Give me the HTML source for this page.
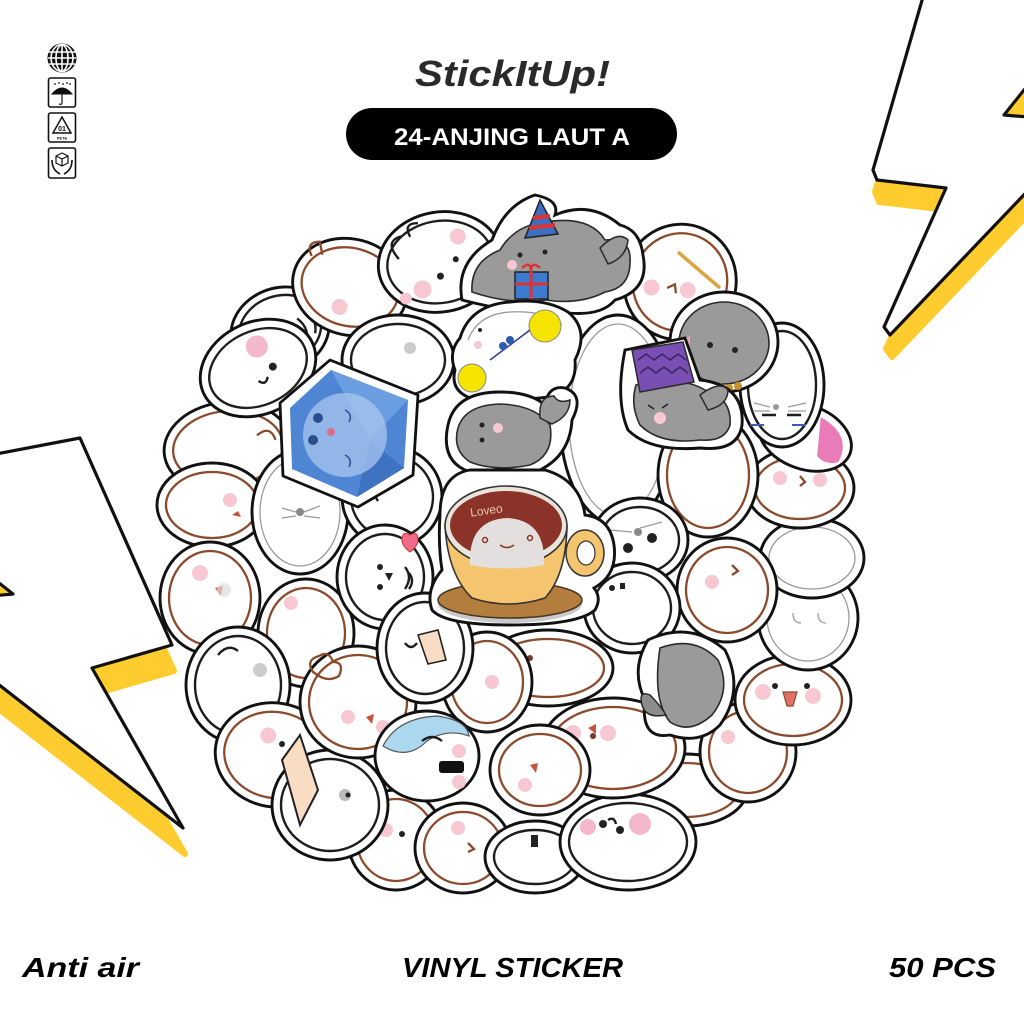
<!DOCTYPE html>
<html><head><meta charset="utf-8"><title>StickItUp</title>
<style>
html,body{margin:0;padding:0;background:#fff;}
svg{display:block;}
.o{fill:#fff;stroke:#111;stroke-width:2.9;}
.b{fill:none;stroke:#8a4a2b;stroke-width:2.3;}
.k{fill:none;stroke:#1d1d1d;stroke-width:2.4;}
.g{fill:none;stroke:#9a9a9a;stroke-width:1.3;}
.ck{fill:#f7c8d2;}
.e{fill:#222;}
.gr{fill:#9a9a9a;stroke:#2a2a2a;stroke-width:1.6;}
.t{font-family:"Liberation Sans",sans-serif;font-weight:bold;}
</style></head>
<body>
<svg width="1024" height="1024" viewBox="0 0 1024 1024" xmlns="http://www.w3.org/2000/svg">
<rect width="1024" height="1024" fill="#fff"/>

<!-- Right lightning -->
<polygon points="925,-10 873,170 877,180 946,188 884,327 890,335 1040,178 1040,-10" transform="translate(2,22)" fill="#FFCC2F" stroke="#FFCC2F" stroke-width="6" stroke-linejoin="round"/>
<polygon points="1004,115 1040,70 1040,118" fill="#FFCC2F"/>
<polygon points="925,-10 873,170 877,180 946,188 884,327 890,335 1040,178 1040,118 1004,115 1040,70 1040,-10" fill="#fff" stroke="#111" stroke-width="3.2" stroke-linejoin="round"/>

<!-- Left lightning -->
<polygon points="-20,457 80,438 172,645 92,668 183,828 -20,670" transform="translate(2,26)" fill="#FFCC2F" stroke="#FFCC2F" stroke-width="6" stroke-linejoin="round"/>
<polygon points="-20,568 13,594 -20,597" fill="#FFCC2F"/>
<polygon points="-20,457 80,438 172,645 92,668 183,828 -20,670 -20,597 13,594 -20,568" fill="#fff" stroke="#111" stroke-width="3.2" stroke-linejoin="round"/>

<!-- Icons -->
<g stroke="#111" fill="none">
  <circle cx="62" cy="58" r="14" fill="#111"/>
  <g stroke="#fff" stroke-width="1.6">
    <line x1="48" y1="52" x2="76" y2="52"/><line x1="48" y1="58" x2="76" y2="58"/><line x1="49" y1="64" x2="75" y2="64"/>
    <line x1="62" y1="44" x2="62" y2="72"/><ellipse cx="62" cy="58" rx="6" ry="13"/><ellipse cx="62" cy="58" rx="11" ry="13.5"/>
  </g>
  <rect x="48.5" y="78" width="27" height="29" rx="2" stroke-width="1.6"/>
  <path d="M52 94 Q62 82 72 94 Z" fill="#111" stroke-width="1"/>
  <path d="M62 94 L62 103 Q62 105 59 104" stroke-width="1.2"/>
  <g fill="#111" stroke="none"><circle cx="55" cy="84" r="0.9"/><circle cx="59" cy="83" r="0.9"/><circle cx="63" cy="84" r="0.9"/><circle cx="67" cy="83" r="0.9"/><circle cx="70" cy="84" r="0.9"/></g>
  <rect x="48.5" y="113" width="27" height="29" rx="2" stroke-width="1.6"/>
  <path d="M62 117 L71 133 L53 133 Z" stroke-width="1.5"/>
  <rect x="48.5" y="148" width="27" height="30" rx="2" stroke-width="1.6"/>
  <path d="M56 156 L62 153 L68 156 L68 163 L62 166 L56 163 Z M56 156 L62 159 L68 156 M62 159 L62 166" stroke-width="1.2"/>
  <path d="M52 160 Q52 170 60 174 M72 160 Q72 170 64 174" stroke-width="1.6"/>
</g>
<text x="62" y="131" class="t" font-size="7" text-anchor="middle" fill="#111">01</text>
<text x="62" y="139.5" class="t" font-size="4" text-anchor="middle" fill="#111">PETE</text>

<!-- Title -->
<text x="415" y="86" class="t" font-style="italic" font-size="36" fill="#2a2a2a" textLength="195" lengthAdjust="spacingAndGlyphs">StickItUp!</text>
<rect x="346" y="108" width="331" height="52" rx="26" fill="#000"/>
<text x="394" y="145" class="t" font-size="24" fill="#fff" textLength="236" lengthAdjust="spacingAndGlyphs">24-ANJING LAUT A</text>

<!-- ===== Collage ===== -->
<g transform="translate(280,330) rotate(-20)"><ellipse class="o" rx="50" ry="42"/><ellipse class="k" rx="42" ry="34"/><path class="k" d="M20 -5 q10 15 -2 30 M28 -10 q12 10 4 25"/></g>
<g transform="translate(350,287) rotate(15)"><ellipse class="o" rx="58" ry="48"/><ellipse class="b" rx="49" ry="39"/><circle class="ck" cx="-5" cy="22" r="8"/><path class="b" d="M-45 -20 q-10 -12 4 -16 q4 8 6 12"/></g>
<g transform="translate(440,262) rotate(-10)"><ellipse class="o" rx="62" ry="50"/><ellipse class="k" rx="53" ry="41"/><circle class="ck" cx="22" cy="-22" r="8"/><circle class="ck" cx="-22" cy="24" r="9"/><circle class="ck" cx="-40" cy="30" r="6"/><circle class="e" cx="-2" cy="14" r="3.5"/><circle class="e" cx="16" cy="0" r="3"/><path class="k" d="M-40 -10 q-12 -20 6 -22 M-25 -30 q-5 -15 10 -12"/></g>
<g transform="translate(228,448) rotate(-5)"><ellipse class="o" rx="64" ry="46"/><ellipse class="b" rx="55" ry="37"/><path class="b" d="M30 -10 q14 -10 18 6"/></g>
<g transform="translate(258,368) rotate(-25)"><ellipse class="o" rx="60" ry="46"/><ellipse class="k" rx="51" ry="37"/><circle cx="8" cy="-20" r="11" fill="#f4b8cc"/><circle class="e" cx="14" cy="5" r="4"/><path class="k" d="M-5 12 q5 8 10 0"/></g>
<g transform="translate(212,505)"><ellipse class="o" rx="55" ry="42"/><ellipse class="b" rx="46" ry="33"/><circle class="ck" cx="18" cy="-5" r="7"/><path d="M20 10 l6 -4 l3 6 z" fill="#c7523e"/></g>
<g transform="translate(210,598)"><ellipse class="o" rx="50" ry="56"/><ellipse class="b" rx="41" ry="47"/><circle class="ck" cx="-10" cy="-25" r="8"/><path d="M5 -10 l8 -2 l-2 10 z" fill="#c7523e"/><circle cx="14" cy="-8" r="7" fill="#ddd" opacity=".7"/></g>
<g transform="translate(306,633)"><ellipse class="o" rx="48" ry="54"/><ellipse class="b" rx="39" ry="45"/><circle class="ck" cx="-15" cy="-30" r="7"/></g>
<g transform="translate(238,685)"><ellipse class="o" rx="52" ry="58"/><ellipse class="k" rx="43" ry="49"/><path class="k" d="M-20 -30 q10 -12 20 -4"/><circle cx="22" cy="-15" r="7" fill="#ccc"/></g>
<g transform="translate(275,755) rotate(10)"><ellipse class="o" rx="60" ry="52"/><ellipse class="b" rx="51" ry="43"/><circle class="ck" cx="-10" cy="-18" r="8"/><circle class="e" cx="5" cy="-12" r="3"/></g>
<g transform="translate(396,840)"><ellipse class="o" rx="48" ry="50"/><ellipse class="b" rx="39" ry="41"/><circle class="ck" cx="-10" cy="-10" r="7"/><circle class="e" cx="6" cy="-6" r="3"/></g>
<g transform="translate(330,805)"><ellipse class="o" rx="58" ry="55"/><ellipse class="k" rx="49" ry="46"/><circle cx="15" cy="-10" r="6" fill="#bbb"/><circle class="e" cx="18" cy="-10" r="2.5"/></g>
<path d="M282 760 L300 735 L318 790 L300 825 Z" fill="#f9dcc4" stroke="#222" stroke-width="2"/>
<g transform="translate(463,848)"><ellipse class="o" rx="48" ry="45"/><ellipse class="b" rx="39" ry="36"/><circle class="ck" cx="-5" cy="-20" r="7"/><path d="M5 -5 l6 6 l-6 3" class="b"/></g>
<g transform="translate(535,857)"><ellipse class="o" rx="50" ry="36"/><ellipse class="k" rx="41" ry="27"/><rect x="-4" y="-22" width="7" height="12" fill="#222"/></g>
<g transform="translate(685,790)"><ellipse class="o" rx="62" ry="36"/><ellipse class="b" rx="53" ry="27"/></g>
<g transform="translate(628,842)"><ellipse class="o" rx="68" ry="48"/><ellipse class="k" rx="59" ry="39"/><circle cx="-40" cy="-15" r="8" fill="#f4b8cc"/><circle cx="12" cy="-18" r="11" fill="#f4b8cc"/><circle class="e" cx="-25" cy="-18" r="4"/><circle class="e" cx="-8" cy="-12" r="4"/><path class="k" d="M-20 -22 q6 -4 8 4"/></g>
<g transform="translate(748,752)"><ellipse class="o" rx="48" ry="50"/><ellipse class="b" rx="39" ry="41"/><circle class="ck" cx="-20" cy="-15" r="7"/></g>
<g transform="translate(793,700)"><ellipse class="o" rx="58" ry="45"/><ellipse class="b" rx="49" ry="36"/><circle class="ck" cx="-30" cy="-8" r="8"/><circle class="ck" cx="20" cy="-4" r="8"/><path d="M-10 -8 l14 0 l-4 14 l-6 0 z" fill="#e0706a" stroke="#8a4a2b" stroke-width="1.2"/><circle class="e" cx="-18" cy="-14" r="3"/><circle class="e" cx="14" cy="-14" r="3"/></g>
<g transform="translate(808,618)"><ellipse class="o" rx="50" ry="52"/><ellipse class="g" rx="41" ry="43"/><path class="g" d="M-15 -5 q0 10 8 10 M10 -5 q0 10 8 10"/></g>
<g transform="translate(812,558)"><ellipse class="o" rx="52" ry="40"/><ellipse class="g" rx="43" ry="31"/></g>
<g transform="translate(800,488)"><ellipse class="o" rx="54" ry="40"/><ellipse class="b" rx="45" ry="31"/><circle class="ck" cx="-20" cy="-10" r="7"/><circle class="ck" cx="20" cy="-8" r="7"/><path d="M0 -12 l5 6 l-5 4" class="b"/></g>
<g transform="translate(805,437) rotate(20)"><ellipse class="o" rx="48" ry="32"/><path d="M8 -24 Q44 -18 40 12 Q30 20 18 14 Z" fill="#e97cb6"/></g>
<g transform="translate(782,385)"><ellipse class="o" rx="42" ry="62"/><ellipse class="k" rx="34" ry="54"/><path class="k" d="M-20 30 l14 0 M5 30 l14 0"/><circle cx="-6" cy="22" r="3" fill="#999"/><path class="g" d="M-28 18 l16 4 M-28 26 l16 0 M6 22 l18 -4 M6 26 l18 0"/><path d="M-32 40 l14 0 M10 40 l14 0" stroke="#3a5fb0" stroke-width="2"/></g>
<g transform="translate(680,282) rotate(20)"><ellipse class="o" rx="56" ry="58"/><ellipse class="b" rx="47" ry="49"/><circle class="ck" cx="-25" cy="15" r="8"/><circle class="ck" cx="10" cy="5" r="8"/><path class="b" d="M-10 10 l6 -6 l4 8"/></g>
<line x1="678" y1="252" x2="720" y2="288" stroke="#d9a441" stroke-width="3.5"/>

<!-- party gray seal -->
<path class="o" d="M462 300 Q455 262 492 240 Q505 205 535 195 Q560 200 555 215 Q590 200 620 225 Q640 230 643 255 Q650 290 615 300 Q600 318 560 312 Q520 315 462 300 Z"/>
<path class="gr" d="M472 292 Q470 262 500 250 Q515 225 545 222 Q590 215 605 240 Q632 238 630 262 Q630 288 605 292 Q580 305 545 300 Q510 305 472 292 Z"/>
<path d="M600 248 q18 -18 28 -8 q-2 18 -20 24 z" fill="#9a9a9a" stroke="#2a2a2a" stroke-width="1.5"/>
<path d="M540 200 L525 238 L558 234 Z" fill="#3d6ec0" stroke="#222" stroke-width="1.5"/>
<path d="M533 218 L550 216 M529 228 L555 225" stroke="#d33" stroke-width="4"/>
<circle class="e" cx="520" cy="255" r="2.5"/><circle class="e" cx="545" cy="252" r="2.5"/>
<circle class="ck" cx="512" cy="265" r="5"/>
<rect x="515" y="272" width="33" height="27" fill="#3d7bd0" stroke="#222" stroke-width="1.5"/>
<path d="M531 272 L531 299 M515 284 L548 284" stroke="#d33" stroke-width="3"/>
<path d="M522 268 q9 -8 9 4 q0 -12 9 -4" fill="none" stroke="#d33" stroke-width="2.5"/>

<!-- angry gray seal -->
<ellipse class="o" cx="724" cy="342" rx="54" ry="50"/>
<ellipse class="gr" cx="724" cy="343" rx="45" ry="41"/>
<circle class="e" cx="710" cy="345" r="3"/><circle class="e" cx="735" cy="350" r="3"/>
<path d="M680 340 l10 -4 l0 18 z" fill="#f3a0c0"/>
<g fill="#c8902a"><circle cx="720" cy="387" r="4"/><circle cx="729" cy="388" r="4"/><circle cx="738" cy="386" r="4"/></g>

<!-- middle layer -->
<g transform="translate(618,420)"><ellipse class="o" rx="58" ry="105"/><ellipse class="g" rx="49" ry="96"/></g>
<g transform="translate(708,475)"><ellipse class="o" rx="50" ry="62"/><ellipse class="b" rx="41" ry="53"/></g>
<g transform="translate(727,590)"><ellipse class="o" rx="50" ry="52"/><ellipse class="b" rx="41" ry="43"/><circle class="ck" cx="-15" cy="-8" r="7"/><path d="M5 -25 l6 6 l-6 4" class="b"/></g>
<g transform="translate(398,360)"><ellipse class="o" rx="56" ry="45"/><ellipse class="k" rx="47" ry="36"/><circle cx="12" cy="-12" r="6" fill="#ccc"/><path class="k" d="M-40 10 q-8 10 2 18"/></g>
<g transform="translate(300,512)"><ellipse class="o" rx="48" ry="62"/><ellipse class="g" rx="40" ry="54"/><circle cx="0" cy="0" r="4" fill="#888"/><path class="g" d="M-18 -4 l14 4 M-18 6 l14 -2 M4 0 l16 -6 M4 4 l16 2"/></g>
<g transform="translate(392,497)"><ellipse class="o" rx="50" ry="50"/><ellipse class="k" rx="41" ry="41"/><path class="k" d="M-10 -20 q-14 10 -4 24"/></g>
<g transform="translate(613,748)"><ellipse class="o" rx="72" ry="50"/><ellipse class="b" rx="63" ry="41"/><circle class="ck" cx="-40" cy="-15" r="8"/><circle class="ck" cx="-5" cy="-15" r="8"/><path d="M-25 -20 l8 -4 l0 10 z" fill="#c7523e"/><circle cx="-20" cy="-12" r="3" fill="#7a3a22"/></g>
<g transform="translate(540,770)"><ellipse class="o" rx="50" ry="45"/><ellipse class="b" rx="41" ry="36"/><circle class="ck" cx="-15" cy="15" r="7"/><path d="M-10 -5 l8 -2 l-2 10 z" fill="#c7523e"/></g>
<g transform="translate(548,668)"><ellipse class="o" rx="65" ry="38"/><ellipse class="b" rx="56" ry="29"/><circle class="ck" cx="-35" cy="-8" r="7"/><circle cx="-18" cy="-10" r="3" fill="#7a3a22"/></g>
<g transform="translate(487,682)"><ellipse class="o" rx="45" ry="50"/><ellipse class="b" rx="36" ry="41"/><circle class="ck" cx="5" cy="0" r="7"/></g>
<g transform="translate(358,702)"><ellipse class="o" rx="58" ry="56"/><ellipse class="b" rx="49" ry="47"/><circle class="ck" cx="-10" cy="15" r="7"/><circle class="ck" cx="25" cy="25" r="7"/><path d="M8 15 l8 -3 l-2 10 z" fill="#c7523e"/><path class="b" d="M-45 -30 q-8 -12 6 -16 q10 -6 14 6 q12 0 6 14 q-10 6 -20 0 z"/></g>
<g transform="translate(385,577)"><ellipse class="o" rx="48" ry="52"/><ellipse class="k" rx="39" ry="43"/><circle class="e" cx="-5" cy="-10" r="3"/><circle class="e" cx="-5" cy="10" r="3"/><path d="M0 -4 l8 0 l-4 8 z" fill="#222"/><path class="k" d="M20 -10 q8 10 0 22 M24 -4 q6 8 0 16"/></g>
<path d="M402 540 q0 -10 8 -5 q8 -5 8 5 q0 6 -8 12 q-8 -6 -8 -12 z" fill="#f06a8a" stroke="#c33" stroke-width="1"/>
<g transform="translate(425,648)"><ellipse class="o" rx="48" ry="55"/><ellipse class="k" rx="39" ry="46"/><path class="k" d="M-20 -5 q6 8 12 0"/></g>
<path d="M418 635 l20 -5 l8 30 l-18 4 z" fill="#f9dcc4" stroke="#222" stroke-width="1.6"/>
<g transform="translate(640,540)"><ellipse class="o" rx="48" ry="42"/><ellipse class="k" rx="39" ry="33"/><circle class="e" cx="-12" cy="8" r="5"/><circle class="e" cx="12" cy="-2" r="5"/><circle cx="-2" cy="-8" r="4" fill="#888"/><path class="g" d="M-30 -10 l22 2 M0 -12 l22 -6"/></g>
<g transform="translate(632,608)"><ellipse class="o" rx="48" ry="45"/><ellipse class="k" rx="39" ry="36"/><circle class="e" cx="-20" cy="-20" r="3"/><rect x="-12" y="-25" width="5" height="6" fill="#222"/></g>

<!-- gray seal lower right -->
<path class="o" d="M648 640 Q690 620 725 650 Q745 690 720 725 Q700 745 670 735 Q640 740 645 700 Q630 670 648 640 Z"/>
<path class="gr" d="M660 648 Q695 635 718 660 Q732 690 712 715 Q690 735 670 722 Q652 700 660 648 Z"/>
<path d="M650 695 q-12 -5 -8 10 q4 14 24 10 q-6 -10 -16 -20 z" fill="#8c8c8c" stroke="#2a2a2a" stroke-width="1.5"/>

<!-- purple hat gray seal -->
<path class="o" d="M625 350 L685 338 L700 380 Q745 385 742 425 Q738 452 700 448 Q650 452 628 430 Q615 400 625 350 Z"/>
<path class="gr" d="M636 385 Q680 375 705 390 Q732 398 730 425 Q725 442 700 440 Q660 445 640 425 Q630 405 636 385 Z"/>
<path d="M632 350 L683 342 L694 382 L640 392 Z" fill="#7a4fb3" stroke="#2a2a2a" stroke-width="1.5"/>
<path d="M638 360 l8 -6 l8 6 l8 -6 l8 6 l8 -6 l8 6 M640 373 l8 -6 l8 6 l8 -6 l8 6 l8 -6 l8 6" fill="none" stroke="#3a2460" stroke-width="1.5"/>
<circle class="ck" cx="660" cy="418" r="6"/><path d="M648 405 l6 4 M662 408 l6 -4" stroke="#222" stroke-width="1.6"/>
<path d="M700 395 q20 -15 28 -5 q0 15 -20 20 z" fill="#9a9a9a" stroke="#2a2a2a" stroke-width="1.5"/>

<!-- white seal with yellow pompoms -->
<path class="o" d="M460 338 Q470 305 510 302 Q545 298 568 312 Q590 330 575 360 Q578 395 540 398 Q500 402 470 398 Q450 390 455 370 Q448 352 460 338 Z"/>
<path class="g" d="M468 340 Q478 314 510 312 Q545 310 562 325"/>
<circle cx="545" cy="326" r="16" fill="#f4e400" stroke="#888" stroke-width="1"/>
<circle cx="472" cy="378" r="14" fill="#f4e400" stroke="#888" stroke-width="1"/>
<path d="M490 360 L530 330" stroke="#2c3f9a" stroke-width="1.5"/>
<circle cx="503" cy="346" r="4" fill="#2c5bb0"/><circle cx="510" cy="340" r="4" fill="#2c5bb0"/>
<circle class="e" cx="480" cy="330" r="2"/><circle class="ck" cx="478" cy="345" r="4"/>

<!-- light blue sticker -->
<g transform="translate(427,756)"><ellipse class="o" rx="52" ry="45"/><path d="M-44 -10 Q-30 -38 10 -40 Q40 -36 42 -20 Q20 -28 0 -15 Q-20 5 -44 -10 Z" fill="#abd7ef" stroke="#555" stroke-width="1.2"/><path class="k" d="M-5 -15 q10 -8 20 0"/><rect x="12" y="5" width="25" height="12" rx="3" fill="#111"/><circle class="ck" cx="32" cy="-5" r="7"/><circle class="ck" cx="32" cy="26" r="7"/></g>

<!-- blue crystal seal -->
<polygon points="330,360 418,395 413,475 358,507 283,476 280,403" fill="#fff" stroke="#111" stroke-width="2.8" stroke-linejoin="round"/>
<polygon points="331,370 408,400 404,468 357,497 292,469 290,408" fill="#4f86d4"/>
<polygon points="331,370 408,400 370,440" fill="#6b9ee0"/>
<polygon points="404,468 357,497 370,440" fill="#3e73c2"/>
<circle cx="345" cy="435" r="42" fill="#a8c5ef" opacity="0.75"/>
<circle cx="318" cy="418" r="5" fill="#2c4e8c"/><circle cx="313" cy="440" r="5" fill="#2c4e8c"/>
<circle cx="331" cy="432" r="4" fill="#e06a8a"/>
<path d="M345 410 q8 4 4 12 M345 455 q8 4 4 12" fill="none" stroke="#2c4e8c" stroke-width="1.5"/>

<!-- gray seal above cup -->
<path class="o" d="M448 425 Q455 392 500 392 Q530 392 545 405 Q548 385 565 388 Q585 395 572 420 Q570 455 540 470 Q500 480 470 472 Q440 462 448 425 Z"/>
<path class="gr" d="M458 428 Q465 405 500 404 Q535 405 550 425 Q555 455 530 465 Q495 472 470 462 Q452 450 458 428 Z"/>
<path d="M540 418 q-2 -22 14 -22 q4 8 16 4 q0 16 -18 24 z" fill="#9a9a9a" stroke="#2a2a2a" stroke-width="1.5"/>
<circle class="e" cx="482" cy="425" r="2.5"/><circle class="e" cx="482" cy="440" r="2.5"/><circle class="ck" cx="498" cy="428" r="5"/>

<!-- coffee cup -->
<path class="o" d="M470 470 Q440 475 440 515 Q438 545 442 570 Q425 590 432 610 Q445 625 510 625 Q578 625 595 610 Q602 598 594 588 Q618 575 614 545 Q610 518 585 515 Q580 480 545 470 Z"/>
<ellipse cx="510" cy="604" rx="72" ry="19" fill="#c9c9c9"/>
<ellipse cx="510" cy="600" rx="72" ry="18" fill="#b27d3d" stroke="#4a3520" stroke-width="1.5"/>
<ellipse cx="585" cy="553" rx="19" ry="23" fill="#f5c46e" stroke="#333" stroke-width="1.5"/>
<ellipse cx="586" cy="553" rx="9" ry="12" fill="#fff" stroke="#333" stroke-width="1.2"/>
<path d="M445 526 Q448 575 472 598 Q508 610 545 598 Q566 575 567 526 Z" fill="#f5c46e" stroke="#333" stroke-width="1.6"/>
<ellipse cx="506" cy="526" rx="61" ry="40" fill="#e9e4dc" stroke="#333" stroke-width="1.6"/>
<ellipse cx="506" cy="525" rx="56" ry="34" fill="#8b3328"/>
<path d="M470 565 Q468 520 507 518 Q546 520 544 565 Q507 572 470 565 Z" fill="#e3dfdf"/>
<circle cx="485" cy="540" r="2.5" fill="none" stroke="#8b3328" stroke-width="1.5"/>
<circle cx="530" cy="538" r="2.5" fill="none" stroke="#8b3328" stroke-width="1.5"/>
<path d="M500 545 q7 5 14 0" fill="none" stroke="#8b3328" stroke-width="1.5"/>
<text x="470" y="514" font-family="'Liberation Sans', sans-serif" font-size="12" fill="#e8c8b0" transform="rotate(-8 490 510)">Loveo</text>

<!-- Bottom text -->
<text x="22" y="977" class="t" font-style="italic" font-size="28" fill="#000" textLength="117" lengthAdjust="spacingAndGlyphs">Anti air</text>
<text x="402" y="977" class="t" font-style="italic" font-size="28" fill="#000" textLength="221" lengthAdjust="spacingAndGlyphs">VINYL STICKER</text>
<text x="889" y="977" class="t" font-style="italic" font-size="28" fill="#000" textLength="107" lengthAdjust="spacingAndGlyphs">50 PCS</text>
</svg>
</body></html>
